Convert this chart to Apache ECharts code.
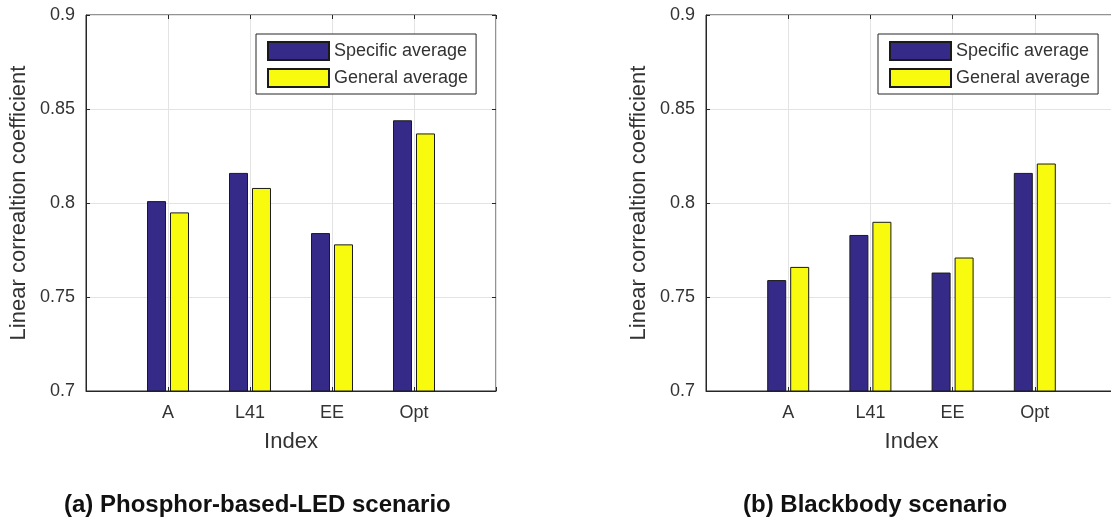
<!DOCTYPE html>
<html>
<head>
<meta charset="utf-8">
<script src="https://cdn.jsdelivr.net/npm/echarts@6/dist/echarts.min.js"></script>
<style>
html,body{margin:0;padding:0;background:#fff;}
#chart{width:1111px;height:519px;}
</style>
</head>
<body>
<div id="chart"></div>
<script>
// ---- data ----
const categories = ['A', 'L41', 'EE', 'Opt'];
const seriesNames = ['Specific average', 'General average'];
const ledSpecific = [0.801, 0.816, 0.784, 0.844];
const ledGeneral = [0.795, 0.808, 0.778, 0.837];
const bbSpecific = [0.759, 0.783, 0.763, 0.816];
const bbGeneral = [0.766, 0.790, 0.771, 0.821];
const yTicks = { min: 0.7, max: 0.9, interval: 0.05 };
const captions = ['(a) Phosphor-based-LED scenario', '(b) Blackbody scenario'];
const yName = 'Linear correaltion coefficient';
const xName = 'Index';

// ---- build ----
const FONT = "'Liberation Sans', Arial, Helvetica, sans-serif";
const TXT = '#333333';
const AX = '#262626';
const GRIDC = '#e3e3e3';
const COLORS = ['#352a87', '#f9fb0e'];

// padded category axis (MATLAB-like xlim [0,5])
const axisCats = [''].concat(categories, ['']);
const pad = arr => [null].concat(arr, [null]);

const grids = [
  { left: 86, top: 15, width: 410, height: 376, show: true, borderColor: AX, borderWidth: 1, backgroundColor: '#fff', outerBoundsMode: 'none', containLabel: false },
  { left: 706, top: 15, width: 411, height: 376, show: true, borderColor: AX, borderWidth: 1, backgroundColor: '#fff', outerBoundsMode: 'none', containLabel: false }
];

const xAxes = [], yAxes = [];
[0, 1].forEach(g => {
  xAxes.push({
    type: 'category', gridIndex: g, data: axisCats, boundaryGap: false,
    name: xName, nameLocation: 'middle', nameGap: 40,
    nameTextStyle: { fontFamily: FONT, fontSize: 22, color: TXT },
    axisLine: { show: true, lineStyle: { color: AX, width: 1 } },
    axisTick: { show: true, inside: true, length: 4, lineStyle: { color: AX } },
    axisLabel: { fontFamily: FONT, fontSize: 18, color: TXT, margin: 13, interval: 0 },
    splitLine: { show: true, lineStyle: { color: GRIDC, width: 1 } }
  });
  xAxes.push({
    type: 'category', gridIndex: g, data: axisCats, boundaryGap: false, position: 'top',
    axisLine: { show: false }, axisLabel: { show: false },
    axisTick: { show: true, inside: true, length: 4, lineStyle: { color: AX } },
    splitLine: { show: false }
  });
  yAxes.push({
    type: 'value', gridIndex: g, min: yTicks.min, max: yTicks.max, interval: yTicks.interval,
    name: yName, nameLocation: 'middle', nameGap: 56,
    nameTextStyle: { fontFamily: FONT, fontSize: 22, color: TXT },
    axisLine: { show: true, lineStyle: { color: AX, width: 1 } },
    axisTick: { show: true, inside: true, length: 4, lineStyle: { color: AX } },
    axisLabel: { fontFamily: FONT, fontSize: 18, color: TXT, margin: 11 },
    splitLine: { show: true, lineStyle: { color: GRIDC, width: 1 } }
  });
  yAxes.push({
    type: 'value', gridIndex: g, min: yTicks.min, max: yTicks.max, interval: yTicks.interval,
    position: 'right',
    axisLine: { show: false }, axisLabel: { show: false },
    axisTick: { show: true, inside: true, length: 4, lineStyle: { color: AX } },
    splitLine: { show: false }
  });
});

const dataSets = [[ledSpecific, ledGeneral], [bbSpecific, bbGeneral]];
const series = [];
dataSets.forEach((pair, g) => {
  pair.forEach((vals, i) => {
    series.push({
      type: 'bar', name: seriesNames[i],
      xAxisIndex: g * 2, yAxisIndex: g * 2,
      data: pad(vals),
      barWidth: 19, barGap: '21%',
      itemStyle: { color: COLORS[i], borderColor: '#1a1a1a', borderWidth: 1 },
      emphasis: { disabled: true }
    });
  });
});

const legendBase = {
  orient: 'vertical', top: 34, data: seriesNames.map(n => ({ name: n, icon: 'rect' })),
  icon: 'rect',
  itemWidth: 61, itemHeight: 18, itemGap: 7,
  padding: [7, 8, 6, 11],
  borderColor: AX, borderWidth: 1, backgroundColor: '#fff',
  textStyle: { fontFamily: FONT, fontSize: 18, color: TXT },
  selectedMode: false
};

const option = {
  animation: false,
  backgroundColor: '#fff',
  grid: grids,
  xAxis: xAxes,
  yAxis: yAxes,
  legend: [
    Object.assign({}, legendBase, { left: 256 }),
    Object.assign({}, legendBase, { left: 878 })
  ],
  title: [
    { text: captions[0], left: 64, top: 493, padding: 0,
      textStyle: { fontFamily: FONT, fontSize: 24, fontWeight: 'bold', color: '#111' } },
    { text: captions[1], left: 743, top: 493, padding: 0,
      textStyle: { fontFamily: FONT, fontSize: 24, fontWeight: 'bold', color: '#111' } }
  ],
  series: series
};

const chart = echarts.init(document.getElementById('chart'), null, { renderer: 'canvas' });
chart.setOption(option);
</script>
</body>
</html>
